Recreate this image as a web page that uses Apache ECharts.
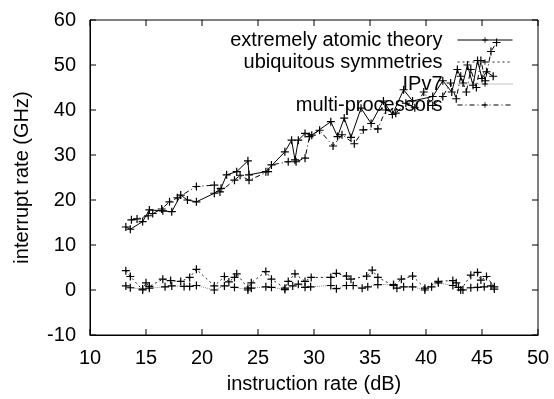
<!DOCTYPE html>
<html>
<head>
<meta charset="utf-8">
<script src="https://cdn.jsdelivr.net/npm/echarts@6/dist/echarts.min.js"></script>
<style>html,body{margin:0;padding:0;background:#fff}#c{width:554px;height:399px}</style>
</head>
<body>
<div id="c"></div>
<script>
const seriesNames = ['extremely atomic theory', 'ubiquitous symmetries', 'IPv7', 'multi-processors'];
const xTicks = [10, 15, 20, 25, 30, 35, 40, 45, 50];
const yTicks = [-10, 0, 10, 20, 30, 40, 50, 60];

const xAtomic = [13.2,13.6,14.7,15.3,16.5,17.3,18.1,18.7,19.5,21.1,21.7,22.2,23.1,24.1,24.2,25.7,27.4,28.0,28.3,28.6,29.2,29.8,31.5,32.1,32.7,33.3,34.2,35.1,36.2,37.0,38.0,38.8,40.6,41.5,42.3,42.8,43.3,43.7,44.2,44.6,45.0,45.4,46.0];
const yAtomic = [14.0,13.5,15.2,17.8,17.6,17.4,21.1,20.0,19.6,21.5,22.6,25.6,26.3,28.7,25.6,26.3,30.7,33.3,28.9,33.3,34.8,34.4,37.4,34.1,38.2,33.9,40.4,37.0,42.0,39.0,44.5,42.0,43.0,46.5,44.0,49.0,46.0,50.0,45.5,51.0,47.0,48.5,47.5];

const xUbiq = [13.2,13.6,14.7,15.0,15.3,16.5,17.2,18.1,18.9,19.5,21.1,22.0,22.4,22.9,23.1,24.1,24.4,25.7,26.2,27.4,27.7,28.3,29.2,29.75,31.5,32.0,32.9,33.3,34.7,35.2,35.7,37.1,37.8,38.8,39.9,41.1,42.4,42.7,43.1,44.0,44.6,44.9,45.4,46.1];
const yUbiq = [4.3,3.0,0.0,1.6,0.8,2.4,2.1,1.9,2.8,4.6,0.9,3.0,1.8,2.8,3.6,0.4,1.6,4.1,2.4,0.4,1.9,3.6,1.9,2.8,2.8,3.7,3.1,2.4,3.1,4.4,2.8,1.0,2.4,3.1,0.4,1.9,2.1,1.6,0.0,3.3,3.9,2.2,3.0,0.7];

const xIPv7 = [13.2,13.6,14.7,15.3,16.7,17.3,18.4,18.9,19.5,21.1,22.0,22.9,24.1,24.4,25.7,26.2,27.4,28.1,28.6,29.2,29.7,31.5,32.0,32.9,33.5,34.3,34.8,35.7,37.1,37.4,38.0,38.8,39.9,40.5,41.1,42.4,42.9,43.3,44.0,44.6,45.2,45.8,46.1];
const yIPv7 = [0.9,0.5,0.2,0.4,0.7,0.9,0.8,0.8,1.0,0.0,0.9,0.6,0.0,0.4,0.7,0.6,0.1,0.9,1.3,0.6,0.7,1.0,0.3,1.0,1.0,0.4,0.7,1.2,1.2,0.4,0.7,0.7,0.0,0.7,1.6,1.0,0.6,0.0,0.5,0.6,0.7,0.9,0.2];

const xMulti = [13.7,14.2,15.2,15.6,16.4,17.1,17.8,19.5,21.1,21.6,22.9,23.4,24.2,25.9,26.2,27.7,28.4,29.2,29.6,30.5,31.7,32.5,33.6,34.4,35.7,36.4,37.3,38.2,39.0,39.8,40.6,41.5,42.2,42.7,43.1,43.6,44.0,44.5,44.9,45.3,45.8,46.3];
const yMulti = [15.6,15.8,16.5,17.0,18.0,19.6,20.5,23.0,23.3,21.8,24.4,25.5,24.4,26.3,27.8,28.5,28.5,29.3,34.1,35.5,32.0,34.5,32.5,35.6,35.8,40.0,39.3,41.5,40.5,44.0,41.0,43.0,46.0,42.5,47.5,44.0,49.0,45.0,51.0,46.5,53.0,55.0];

const pair = (xs, ys) => xs.map((x, i) => [x, ys[i]]);
const plus = 'path://M3.4,0h1.2v8h-1.2zM0,3.4h8v1.2h-8z';
const FONT = '"Liberation Sans", Arial, sans-serif';
const FS = 20;
const X0 = xTicks[0], X1 = xTicks[xTicks.length - 1];
const Y0 = yTicks[0], Y1 = yTicks[yTicks.length - 1];
const TL = 6;

function mkSeries(name, data, lineStyle) {
  return {
    name, type: 'line', data,
    symbol: plus, symbolSize: 8, showSymbol: true,
    itemStyle: { color: '#000' },
    lineStyle: Object.assign({ width: 1, color: '#000' }, lineStyle),
    emphasis: { disabled: true },
    animation: false
  };
}
const tickStyle = { stroke: '#000', lineWidth: 1, fill: null };
function tickLine(x1, y1, x2, y2) {
  return { type: 'line', shape: { x1, y1, x2, y2 }, style: tickStyle, silent: true };
}

const chart = echarts.init(document.getElementById('c'));
const line = { show: true, onZero: false, lineStyle: { color: '#000', width: 1 } };
const label = { color: '#000', fontFamily: FONT, fontSize: FS };
const legendTops = [25, 47, 69, 90];
chart.setOption({
  animation: false,
  textStyle: { fontFamily: FONT },
  grid: { left: 90, right: 16, top: 20, bottom: 64, show: true, borderColor: '#000', borderWidth: 1, backgroundColor: 'transparent' },
  xAxis: {
    type: 'value', min: X0, max: X1, interval: 5,
    axisLine: line, axisTick: { show: false }, splitLine: { show: false },
    name: 'instruction rate (dB)', nameLocation: 'middle', nameGap: 39,
    nameTextStyle: label,
    axisLabel: Object.assign({ margin: 13 }, label)
  },
  yAxis: {
    type: 'value', min: Y0, max: Y1, interval: 10,
    axisLine: line, axisTick: { show: false }, splitLine: { show: false },
    name: 'interrupt rate (GHz)', nameLocation: 'middle', nameGap: 58,
    nameTextStyle: label,
    axisLabel: Object.assign({ margin: 14 }, label)
  },
  legend: seriesNames.map((n, i) => ({
    data: [n], right: 36, top: legendTops[i], align: 'right',
    itemWidth: 55, itemHeight: 7, selectedMode: false,
    lineStyle: { width: 1 },
    textStyle: { color: '#000', fontFamily: FONT, fontSize: FS, padding: [0, 10, 0, 0] }
  })),
  series: [
    mkSeries(seriesNames[0], pair(xAtomic, yAtomic), { type: 'solid' }),
    mkSeries(seriesNames[1], pair(xUbiq, yUbiq), { type: [2, 3], color: '#222' }),
    mkSeries(seriesNames[2], pair(xIPv7, yIPv7), { type: [1, 1], color: '#888' }),
    mkSeries(seriesNames[3], pair(xMulti, yMulti), { type: [5, 3, 1, 3] }),
    {
      type: 'custom', silent: true, clip: false, z: 5,
      data: xTicks.map(v => [v, Y0]),
      encode: { x: 0, y: 1 },
      renderItem: (params, api) => {
        const v = api.value(0);
        const b = api.coord([v, Y0]);
        const t = api.coord([v, Y1]);
        return { type: 'group', children: [
          tickLine(b[0], b[1], b[0], b[1] - TL),
          tickLine(t[0], t[1], t[0], t[1] + TL)
        ] };
      }
    },
    {
      type: 'custom', silent: true, clip: false, z: 5,
      data: yTicks.map(v => [X0, v]),
      encode: { x: 0, y: 1 },
      renderItem: (params, api) => {
        const v = api.value(1);
        const l = api.coord([X0, v]);
        const r = api.coord([X1, v]);
        return { type: 'group', children: [
          tickLine(l[0], l[1], l[0] + TL, l[1]),
          tickLine(r[0], r[1], r[0] - TL, r[1])
        ] };
      }
    }
  ]
});
</script>
</body>
</html>
